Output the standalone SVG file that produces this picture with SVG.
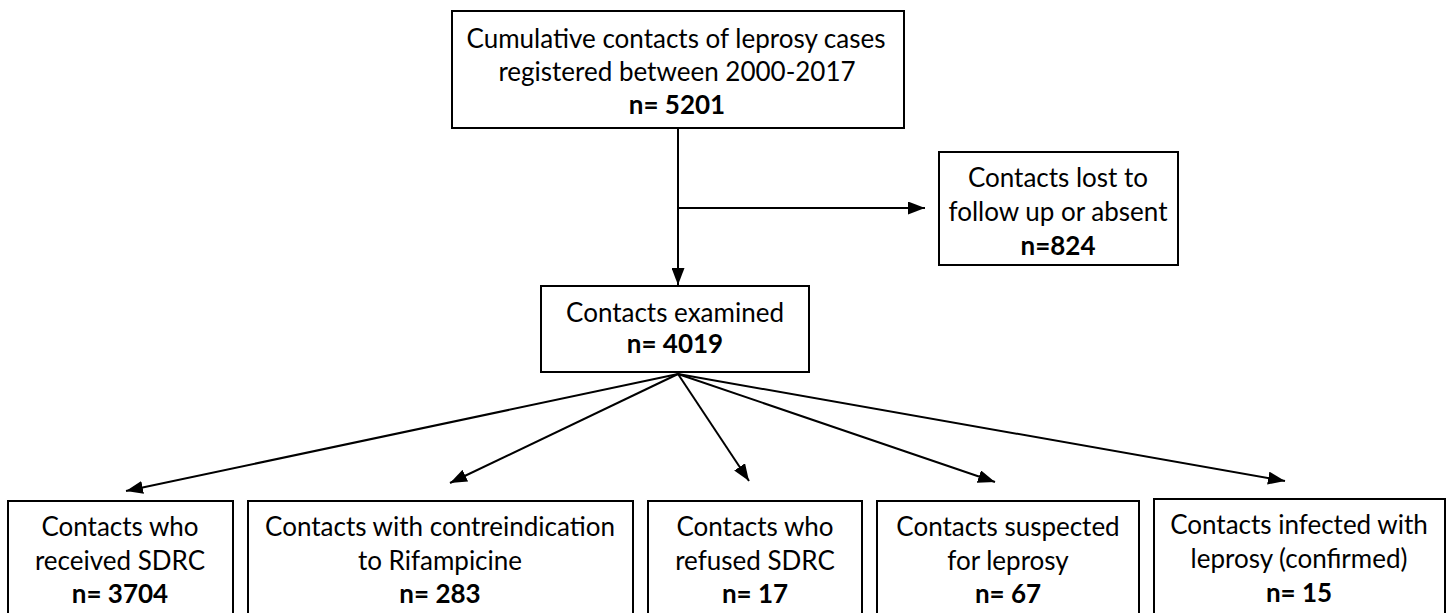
<svg xmlns="http://www.w3.org/2000/svg" width="1448" height="613" viewBox="0 0 1448 613">
<style>
.box{fill:#fff;stroke:#000;stroke-width:2}
.t{font-family:Lato,"Open Sans","Liberation Sans",sans-serif;font-size:26px;fill:#000;text-anchor:middle}
.b{font-weight:bold}
.ln{stroke:#000;stroke-width:2;fill:none}
</style>
<defs>
<marker id="ah" viewBox="0 0 17 13" refX="17" refY="6.5" markerWidth="17" markerHeight="13" markerUnits="userSpaceOnUse" orient="auto">
<path d="M0,0 L17,6.5 L0,13 Z" fill="#000"/>
</marker>
</defs>
<rect width="1448" height="613" fill="#fff"/>
<g id="connectors">
<line class="ln" x1="678" y1="128" x2="678" y2="285" marker-end="url(#ah)"/>
<line class="ln" x1="678" y1="208" x2="925" y2="208" marker-end="url(#ah)"/>
<line class="ln" x1="678" y1="374" x2="126" y2="491" marker-end="url(#ah)"/>
<line class="ln" x1="678" y1="374" x2="450" y2="483" marker-end="url(#ah)"/>
<line class="ln" x1="678" y1="374" x2="749" y2="481" marker-end="url(#ah)"/>
<line class="ln" x1="678" y1="374" x2="995" y2="482" marker-end="url(#ah)"/>
<line class="ln" x1="678" y1="374" x2="1285" y2="481" marker-end="url(#ah)"/>
</g>
<g id="n-cumulative">
<rect class="box" x="452" y="11" width="452" height="117"/>
<text class="t" x="676" y="48">Cumulative contacts of leprosy cases</text>
<text class="t" x="677" y="81">registered between 2000-2017</text>
<text class="t b" x="677" y="114">n= 5201</text>
</g>
<g id="n-lost">
<rect class="box" x="939" y="152" width="239" height="113"/>
<text class="t" x="1058" y="187">Contacts lost to</text>
<text class="t" x="1058" y="221">follow up or absent</text>
<text class="t b" x="1058" y="255">n=824</text>
</g>
<g id="n-examined">
<rect class="box" x="541" y="286" width="268" height="86"/>
<text class="t" x="675" y="322">Contacts examined</text>
<text class="t b" x="675" y="353">n= 4019</text>
</g>
<g id="n-received">
<rect class="box" x="8" y="501" width="225" height="120"/>
<text class="t" x="120" y="536">Contacts who</text>
<text class="t" x="120" y="570">received SDRC</text>
<text class="t b" x="120" y="603">n= 3704</text>
</g>
<g id="n-contra">
<rect class="box" x="248" y="501" width="385" height="120"/>
<text class="t" x="440" y="536">Contacts with contreindication</text>
<text class="t" x="440" y="570">to Rifampicine</text>
<text class="t b" x="440" y="603">n= 283</text>
</g>
<g id="n-refused">
<rect class="box" x="648" y="501" width="214" height="120"/>
<text class="t" x="755" y="536">Contacts who</text>
<text class="t" x="755" y="570">refused SDRC</text>
<text class="t b" x="755" y="603">n= 17</text>
</g>
<g id="n-suspected">
<rect class="box" x="877" y="501" width="262" height="120"/>
<text class="t" x="1008" y="536">Contacts suspected</text>
<text class="t" x="1008" y="570">for leprosy</text>
<text class="t b" x="1008" y="603">n= 67</text>
</g>
<g id="n-infected">
<rect class="box" x="1154" y="499" width="291" height="122"/>
<text class="t" x="1299" y="534">Contacts infected with</text>
<text class="t" x="1299" y="568">leprosy (confirmed)</text>
<text class="t b" x="1299" y="602">n= 15</text>
</g>
</svg>
